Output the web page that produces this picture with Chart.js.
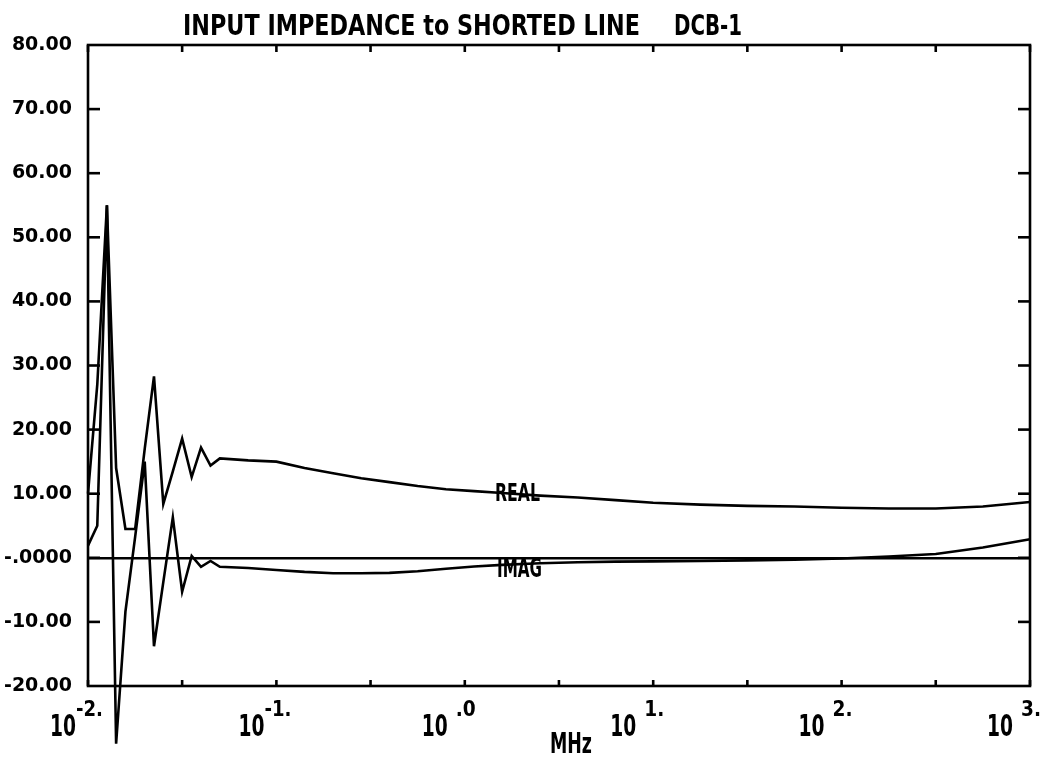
<!DOCTYPE html>
<html>
<head>
<meta charset="utf-8">
<script src="https://cdn.jsdelivr.net/npm/chart.js@4.4.1/dist/chart.umd.min.js"></script>
<style>
  html, body { margin: 0; padding: 0; background: #fff; }
  #wrap { width: 1045px; height: 761px; position: relative; }
</style>
</head>
<body>
<div id="wrap"><canvas id="c"></canvas></div>
<script>
// ---- data ----
const freqMHz = [0.0100, 0.0112, 0.0126, 0.0141, 0.0158, 0.0178, 0.0200, 0.0224, 0.0251, 0.0282,
                 0.0316, 0.0355, 0.0398, 0.0447, 0.0501, 0.0708, 0.100, 0.141, 0.200, 0.282,
                 0.398, 0.562, 0.794, 1.12, 1.58, 2.51, 3.98, 6.31, 10.0, 17.8,
                 31.6, 56.2, 100, 178, 316, 562, 1000];
const realOhm = [10.0, 27.0, 55.0, 14.0, 4.5, 4.5, 17.0, 28.3, 8.4, 13.5,
                 18.6, 12.6, 17.2, 14.4, 15.5, 15.2, 15.0, 14.0, 13.2, 12.4,
                 11.8, 11.2, 10.7, 10.4, 10.1, 9.7, 9.4, 9.0, 8.6, 8.3,
                 8.1, 8.0, 7.8, 7.7, 7.7, 8.0, 8.7];
const imagOhm = [1.9, 5.0, 55.0, -29.0, -8.4, 3.3, 15.0, -13.8, -3.8, 6.3,
                 -5.3, 0.3, -1.4, -0.5, -1.4, -1.6, -1.9, -2.2, -2.4, -2.4,
                 -2.35, -2.1, -1.7, -1.35, -1.1, -0.85, -0.7, -0.6, -0.55, -0.5,
                 -0.4, -0.3, -0.1, 0.2, 0.6, 1.6, 2.9];
const yTickValues = [-20, -10, 0, 10, 20, 30, 40, 50, 60, 70, 80];
const xTickValues = [0.01, 0.0316, 0.1, 0.316, 1, 3.16, 10, 31.6, 100, 316, 1000];
const xDecades = [0.01, 0.1, 1, 10, 100, 1000];
const xExponents = ['-2.', '-1.', '.0', '1.', '2.', '3.'];
const titleMain = 'INPUT IMPEDANCE to SHORTED LINE';
const titleId = 'DCB-1';
const xAxisTitle = 'MHz';
const seriesNames = ['REAL', 'IMAG'];

const FONT = "'DejaVu Sans', sans-serif";

function drawFit(ctx, text, left, baseline, capH, width, weight) {
  const size = capH / 0.729;
  ctx.save();
  ctx.font = (weight || 'normal') + ' ' + size + 'px ' + FONT;
  ctx.textAlign = 'left';
  ctx.textBaseline = 'alphabetic';
  const natural = ctx.measureText(text).width;
  const sx = width / natural;
  ctx.translate(left, baseline);
  ctx.scale(sx, 1);
  ctx.fillStyle = '#000';
  ctx.fillText(text, 0, 0);
  ctx.restore();
}

const framePlugin = {
  id: 'frame',
  afterDraw(chart) {
    const { ctx, chartArea: a, scales } = chart;
    const x = scales.x, y = scales.y;
    ctx.save();
    ctx.strokeStyle = '#000';
    ctx.lineWidth = 2.6;
    ctx.lineCap = 'square';
    ctx.strokeRect(a.left, a.top, a.right - a.left, a.bottom - a.top);
    const line = (x1, y1, x2, y2) => { ctx.beginPath(); ctx.moveTo(x1, y1); ctx.lineTo(x2, y2); ctx.stroke(); };
    ctx.lineCap = 'butt';
    yTickValues.forEach(v => {
      if (v <= y.min || v >= y.max) return;
      const py = y.getPixelForValue(v);
      line(a.left, py, a.left + 12, py);
      line(a.right - 12, py, a.right, py);
    });
    xTickValues.forEach(v => {
      const px = x.getPixelForValue(v);
      line(px, a.top, px, a.top + 7);
      line(px, a.bottom - 6, px, a.bottom);
    });
    ctx.restore();

    // x tick labels: 10 with superscript exponent
    xDecades.forEach((v, i) => {
      const T = x.getPixelForValue(v);
      const exp = xExponents[i];
      const neg = exp.charAt(0) === '-';
      const tenRight = neg ? T - 12 : T - 17;
      drawFit(ctx, '10', tenRight - 26, 736, 22, 26, 'bold');
      const supLeft = neg ? T - 12 : T - 9;
      const supW = neg ? 27 : 20;
      drawFit(ctx, exp, supLeft, 716, 15, supW, 'bold');
    });

    // title
    drawFit(ctx, titleMain, 183, 35, 21, 457, 'bold');
    drawFit(ctx, titleId, 674, 35, 21, 68, 'bold');
    // axis title
    drawFit(ctx, xAxisTitle, 550, 753, 21, 42, 'bold');
    // series labels
    drawFit(ctx, seriesNames[0], 495, 501, 18, 45, 'bold');
    drawFit(ctx, seriesNames[1], 497, 577, 19, 45, 'bold');
  }
};

const mk = (vals) => freqMHz.map((f, i) => ({ x: f, y: vals[i] }));

new Chart(document.getElementById('c'), {
  type: 'line',
  data: {
    datasets: [
      { label: seriesNames[0], data: mk(realOhm), borderColor: '#000', borderWidth: 2.6, pointRadius: 0, tension: 0, clip: false, fill: false },
      { label: seriesNames[1], data: mk(imagOhm), borderColor: '#000', borderWidth: 2.6, pointRadius: 0, tension: 0, clip: false, fill: false }
    ]
  },
  options: {
    responsive: true,
    maintainAspectRatio: false,
    animation: false,
    events: [],
    layout: { padding: { top: 45, right: 15, bottom: 0, left: 0 } },
    plugins: { legend: { display: false }, tooltip: { enabled: false }, title: { display: false } },
    scales: {
      x: {
        type: 'logarithmic',
        min: 0.01, max: 1000,
        grid: { display: false },
        border: { display: false },
        ticks: { display: false },
        afterBuildTicks: s => { s.ticks = xTickValues.map(v => ({ value: v })); },
        afterFit: s => { s.height = 75; }
      },
      y: {
        type: 'linear',
        min: -20, max: 80,
        afterBuildTicks: s => { s.ticks = yTickValues.map(v => ({ value: v })); },
        afterFit: s => { s.width = 88; },
        border: { display: false },
        grid: {
          drawTicks: false,
          color: c => (c.tick && c.tick.value === 0) ? '#000' : 'rgba(0,0,0,0)',
          lineWidth: c => (c.tick && c.tick.value === 0) ? 2.6 : 0
        },
        ticks: {
          padding: 16,
          color: '#000',
          font: { family: FONT, size: 19, weight: 'bold' },
          callback: v => v === 0 ? '-.0000' : v.toFixed(2)
        }
      }
    }
  },
  plugins: [framePlugin]
});
</script>
</body>
</html>
